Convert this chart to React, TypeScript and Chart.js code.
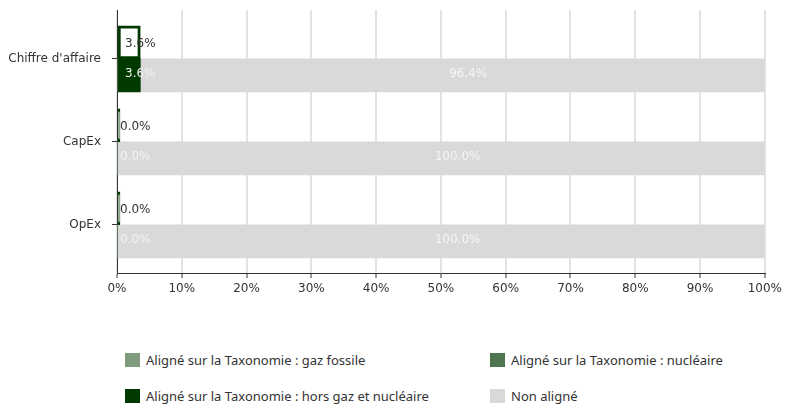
import React, { useEffect, useRef } from 'react';
import { Chart, registerables } from 'chart.js';

Chart.register(...registerables);

const categories = ["Chiffre d'affaire", 'CapEx', 'OpEx'];
const totalAligne = [3.6, 0, 0];
const gazFossile = [0, 0, 0];
const nucleaire = [0, 0, 0];
const horsGazNucleaire = [3.6, 0, 0];
const nonAligne = [96.4, 100, 100];

const legendLabels = [
  'Aligné sur la Taxonomie : gaz fossile',
  'Aligné sur la Taxonomie : nucléaire',
  'Aligné sur la Taxonomie : hors gaz et nucléaire',
  'Non aligné',
];
const legendColors = ['#7f9c7f', '#4f7551', '#013a01', '#d9d9d9'];

const X_MIN = 0;
const X_MAX = 100;
const X_STEP = 10;

const Y_LOW = -0.59;
const Y_HIGH = 2.58;

const FONT = "'DejaVu Sans', sans-serif";

const yRangePlugin = {
  id: 'yRange',
  afterLayout(chart: any) {
    const s: any = chart.scales.y;
    s._startValue = Y_LOW;
    s._valueRange = Y_HIGH - Y_LOW;
  },
};

const labelPlugin = {
  id: 'barLabels',
  afterDatasetsDraw(chart: any) {
    const ctx = chart.ctx;
    ctx.save();
    ctx.font = `12px ${FONT}`;
    ctx.textBaseline = 'middle';
    ctx.textAlign = 'left';
    chart.data.datasets.forEach((ds: any, di: number) => {
      if (!ds.labelMode) return;
      const meta = chart.getDatasetMeta(di);
      meta.data.forEach((bar: any, i: number) => {
        const v = ds.data[i];
        const { x, base, y } = bar.getProps(['x', 'base', 'y'], true);
        const txt = v.toFixed(1) + '%';
        const w = ctx.measureText(txt).width;
        let left: number;
        let dy = 0;
        if (ds.labelMode === 'end') {
          left = Math.max(x - w / 2, chart.chartArea.left + 3);
        } else {
          if (v === 0) return;
          left = base + 0.525 * (x - base) - w / 2;
        }
        dy = ds.stack === 'a' ? 1.5 : -2;
        ctx.fillStyle = ds.labelColor;
        ctx.fillText(txt, left, y + dy);
      });
    });
    ctx.restore();
  },
};

export default function App() {
  const ref = useRef<HTMLCanvasElement>(null);

  useEffect(() => {
    if (!ref.current) return;
    const chart = new Chart(ref.current, {
      type: 'bar',
      data: {
        labels: categories,
        datasets: [
          {
            label: 'Total aligné',
            data: totalAligne,
            stack: 'a',
            backgroundColor: '#ffffff',
            borderColor: '#013a01',
            borderWidth: 3,
            borderSkipped: false,
            minBarLength: 3,
            labelMode: 'end',
            labelColor: '#333333',
          } as any,
          {
            label: legendLabels[0],
            data: gazFossile,
            stack: 'b',
            backgroundColor: legendColors[0],
          },
          {
            label: legendLabels[1],
            data: nucleaire,
            stack: 'b',
            backgroundColor: legendColors[1],
          },
          {
            label: legendLabels[2],
            data: horsGazNucleaire,
            stack: 'b',
            backgroundColor: legendColors[2],
            labelMode: 'end',
            labelColor: '#f2f2f2',
          } as any,
          {
            label: legendLabels[3],
            data: nonAligne,
            stack: 'b',
            backgroundColor: legendColors[3],
            labelMode: 'mid',
            labelColor: '#f5f5f5',
          } as any,
        ],
      },
      options: {
        indexAxis: 'y',
        responsive: false,
        animation: false,
        events: [],
        datasets: { bar: { barThickness: 33 } },
        layout: { padding: { top: 10, right: 20, bottom: 0, left: 0 } },
        plugins: { legend: { display: false }, tooltip: { enabled: false } },
        scales: {
          x: {
            stacked: true,
            min: X_MIN,
            max: X_MAX,
            ticks: {
              stepSize: X_STEP,
              callback: (v: any) => v + '%',
              color: '#333333',
              font: { family: FONT, size: 12 },
              padding: 4,
              maxRotation: 0,
            },
            grid: {
              color: '#e3e3e3',
              lineWidth: 2,
              tickColor: '#333333',
              tickLength: 5,
              tickWidth: 1,
            },
            border: { color: '#333333', width: 1 },
            afterFit: (s: any) => {
              s.height = 27;
            },
          },
          y: {
            stacked: true,
            offset: true,
            ticks: {
              color: '#333333',
              font: { family: FONT, size: 12 },
              padding: 11,
            },
            grid: {
              offset: false,
              drawOnChartArea: false,
              tickColor: '#333333',
              tickLength: 5,
              tickWidth: 1,
            },
            border: { color: '#333333', width: 1 },
            afterFit: (s: any) => {
              s.width = 117;
              s.paddingTop = 0;
              s.paddingBottom = 0;
            },
          },
        },
      } as any,
      plugins: [yRangePlugin, labelPlugin],
    });
    return () => chart.destroy();
  }, []);

  return (
    <div style={{ position: 'absolute', left: 0, top: 0, width: 786, height: 405, background: '#fff' }}>
      <canvas ref={ref} width={786} height={300} style={{ display: 'block', width: 786, height: 300 }} />
      <div
        style={{
          position: 'absolute',
          left: 125,
          top: 352,
          display: 'grid',
          gridTemplateColumns: '365px auto',
          rowGap: 20,
          fontFamily: "'Noto Sans', sans-serif",
          fontSize: 13,
          color: '#333',
        }}
      >
        {legendLabels.map((l, i) => (
          <div key={l} style={{ display: 'flex', alignItems: 'center', height: 16, whiteSpace: 'nowrap' }}>
            <span style={{ display: 'inline-block', width: 15, height: 14, background: legendColors[i], marginRight: 6, flex: 'none' }} />
            <span>{l}</span>
          </div>
        ))}
      </div>
    </div>
  );
}
